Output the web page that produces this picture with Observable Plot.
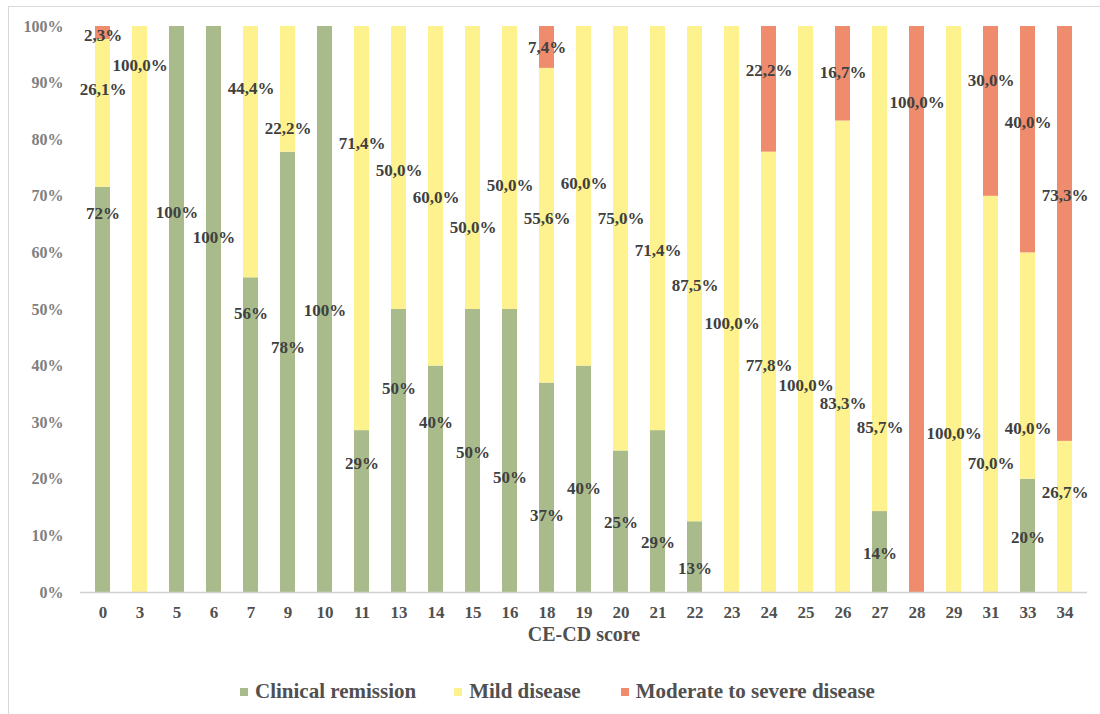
<!DOCTYPE html>
<html>
<head>
<meta charset="utf-8">
<script src="https://cdn.jsdelivr.net/npm/d3@7"></script>
<script src="https://cdn.jsdelivr.net/npm/@observablehq/plot@0.6"></script>
<style>
  html, body { margin: 0; padding: 0; background: #fff; }
  #wrap { position: relative; width: 1100px; height: 714px; overflow: hidden; }
  #frame { position: absolute; left: 8px; top: 6px; width: 1100px; height: 720px; border: 1px solid #d9d9d9; pointer-events: none; }
  #chart { position: absolute; left: 0; top: 0; }
  #legend { position: absolute; left: 240px; top: 679px; display: flex; align-items: center;
            font-family: "Liberation Serif", "DejaVu Serif", serif; font-weight: bold; font-size: 21px; color: #505050; line-height: 24px; }
  .item { display: flex; align-items: center; }
  .sw { width: 8px; height: 8px; margin-right: 7px; margin-top: 2px; }
</style>
</head>
<body>
<div id="wrap">
  <div id="chart"></div>
  <div id="frame"></div>
  <div id="legend"></div>
</div>
<script>
const scores = ["0","3","5","6","7","9","10","11","13","14","15","16","18","19","20","21","22","23","24","25","26","27","28","29","31","33","34"];
const series = ["Clinical remission", "Mild disease", "Moderate to severe disease"];
const colors = ["#a9bb8b", "#fdf28e", "#ef8c6e"];

const remission = [71.6,0,100,100,55.6,77.8,100,28.6,50,40,50,50,37.0,40,25,28.6,12.5,0,0,0,0,14.3,0,0,0,20,0];
const mild      = [26.1,100,0,0,44.4,22.2,0,71.4,50,60,50,50,55.6,60,75,71.4,87.5,100,77.8,100,83.3,85.7,0,100,70,40,26.7];
const severe    = [2.3,0,0,0,0,0,0,0,0,0,0,0,7.4,0,0,0,0,0,22.2,0,16.7,0,100,0,30,40,73.3];

// label anchors (in % of the y scale)
const remissionLabelAt = [67,null,67.1,62.7,49.3,43.3,49.8,22.8,36,30,24.7,20.3,13.6,18.4,12.4,8.8,4.2,null,null,null,null,6.9,null,null,null,9.7,null];
const mildLabelAt      = [88.9,93.1,null,null,89,82,null,79.3,74.6,69.8,64.5,71.9,66.1,72.3,66.1,60.4,54.2,47.5,40.1,36.6,33.4,29.2,null,28.1,22.8,29,17.7];
const severeLabelAt    = [98.4,null,null,null,null,null,null,null,null,null,null,null,96.3,null,null,null,null,null,92.2,null,91.9,null,86.6,null,90.5,83,70.1];

const valuesBySeries = [remission, mild, severe];
const labelsBySeries = [remissionLabelAt, mildLabelAt, severeLabelAt];

const rows = [];
const labels = [];
scores.forEach((s, i) => {
  series.forEach((name, k) => {
    const v = valuesBySeries[k][i];
    rows.push({score: s, series: name, value: v});
    const at = labelsBySeries[k][i];
    if (v > 0 && at != null) {
      const txt = k === 0 ? Math.round(v) + "%" : v.toFixed(1).replace(".", ",") + "%";
      labels.push({score: s, y: at, text: txt});
    }
  });
});

const font = "Liberation Serif, DejaVu Serif, serif";

const chart = Plot.plot({
  width: 1100,
  height: 660,
  marginTop: 26,
  marginBottom: 68,
  marginLeft: 80,
  marginRight: 13,
  style: {fontFamily: font, background: "transparent"},
  x: {domain: scores, paddingInner: 0.6, paddingOuter: 0.3, label: null},
  y: {domain: [0, 100], label: null},
  color: {domain: series, range: colors},
  marks: [
    Plot.barY(rows, {x: "score", y: "value", fill: "series", order: series}),
    Plot.ruleY([0], {stroke: "#d0d0d0", strokeWidth: 1.3}),
    Plot.axisX({tickSize: 0, tickPadding: 13, label: null, fontSize: 17, fontWeight: "bold", fill: "#505050"}),
    Plot.axisY({ticks: d3.range(0, 101, 10), tickFormat: d => d + "%", tickSize: 0, tickPadding: 17, label: null,
                fontSize: 16, fontWeight: "bold", fill: "#7f7f7f"}),
    Plot.text(labels, {x: "score", y: "y", text: "text", fontSize: 17, fontWeight: "bold", fill: "#404040"}),
    Plot.text(["CE-CD score"], {frameAnchor: "bottom", dy: 48, fontSize: 20, fontWeight: "bold", fill: "#505050"})
  ]
});
document.getElementById("chart").appendChild(chart);

const legend = document.getElementById("legend");
series.forEach((name, k) => {
  const item = document.createElement("div");
  item.className = "item";
  if (k > 0) item.style.marginLeft = k === 1 ? "38px" : "40px";
  const sw = document.createElement("div");
  sw.className = "sw";
  sw.style.background = colors[k];
  const t = document.createElement("span");
  t.textContent = name;
  item.appendChild(sw);
  item.appendChild(t);
  legend.appendChild(item);
});
</script>
</body>
</html>
